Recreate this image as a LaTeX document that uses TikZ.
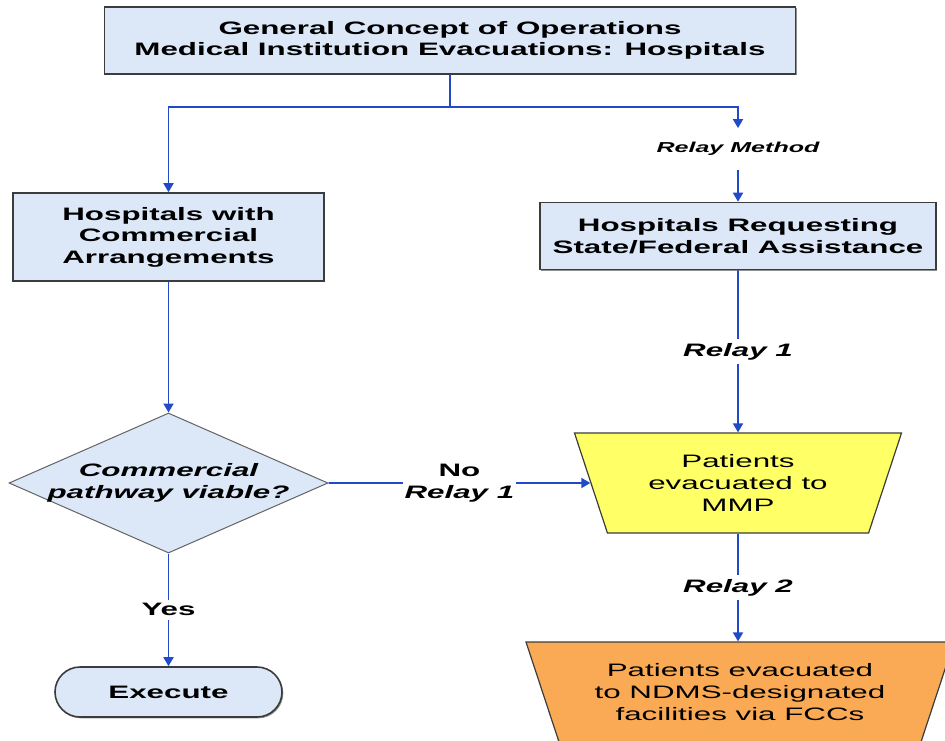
\documentclass[tikz,border=0pt]{standalone}
\usepackage{fontspec}
\setmainfont{Liberation Sans}[FakeStretch=1.74]
\usepackage{tikz}
\usepackage{xcolor}
\usetikzlibrary{shapes.geometric,arrows.meta,shadows,positioning}
\definecolor{boxblue}{RGB}{220,232,248}
\definecolor{edgegray}{RGB}{60,60,60}
\definecolor{flowblue}{RGB}{32,74,200}
\definecolor{mmpyellow}{RGB}{255,255,102}
\definecolor{fccorange}{RGB}{250,170,85}
\newcommand{\relaytag}[1]{\textbf{\textit{#1}}}

\begin{document}
\begin{tikzpicture}[x=1pt, y=-1pt,
    font=\bfseries\fontsize{18}{21.5}\selectfont,
    box/.style={draw=edgegray, line width=1.6pt, fill=boxblue, align=center,
        drop shadow={shadow xshift=1.3pt, shadow yshift=-1.3pt, fill=black!55, opacity=.8}},
    decision/.style={diamond, aspect=2.28, draw=edgegray!80, line width=1pt, fill=boxblue, align=center,
        font=\bfseries\itshape\fontsize{18}{21.5}\selectfont, inner sep=-6pt,
        minimum width=319pt, minimum height=140pt},
    terminal/.style={box, rounded corners=25pt, minimum width=227pt, minimum height=50pt},
    relaybox/.style={trapezium, shape border rotate=180, trapezium angle=60,
        trapezium stretches body, minimum height=100pt, draw=edgegray, line width=1.2pt,
        align=center, inner sep=0pt, font=\mdseries\fontsize{18}{22}\selectfont},
    flow/.style={draw=flowblue, line width=1.8pt},
    tip/.style={-{Triangle[length=9pt, width=10pt]}},
    tag/.style={fill=white, inner xsep=2pt, inner ysep=4pt, align=center}]

\useasboundingbox (0,0) rectangle (945,740);

% boxes
\node[box, minimum width=691pt, minimum height=67pt] (title) at (450,40.5)
    {General Concept of Operations\\Medical Institution Evacuations: Hospitals};
\node[box, minimum width=311pt, minimum height=88pt] (commercial) at (168.5,237)
    {Hospitals with\\Commercial\\Arrangements};
\node[box, minimum width=396pt, minimum height=67pt] (assist) at (738,236)
    {Hospitals Requesting\\State/Federal Assistance};
\node[font=\bfseries\itshape\fontsize{14.4}{17}\selectfont, inner xsep=0pt, inner ysep=14pt] (method) at (738,149)
    {Relay Method};
\node[decision] (viable) at (168.5,483) {Commercial\\pathway viable?};
\node[terminal] (execute) at (168.5,692) {Execute};
\node[relaybox, fill=mmpyellow, minimum width=327pt] (mmp) at (738,483)
    {Patients\\evacuated to\\MMP};
\node[relaybox, fill=fccorange, minimum width=428pt] (fcc) at (740,692)
    {Patients evacuated\\to NDMS-designated\\facilities via FCCs};

% connectors
\coordinate (split) at (title.south |- 0,107);
\draw[flow] (title.south) -- (split);
\draw[flow, tip] (split) -| (commercial.north);
\draw[flow, tip] (split) -| (method.north);
\draw[flow, tip] (method.south) -- (assist.north);
\draw[flow, tip] (assist.south) -- node[tag] {\relaytag{Relay 1}} (mmp.north);
\draw[flow, tip] (commercial.south) -- (viable.north);
\draw[flow, tip] (viable.east) -- node[tag] {No\\\relaytag{Relay 1}} (mmp.west);
\draw[flow, tip] (viable.south) -- node[tag] {Yes} (execute.north);
\draw[flow, tip] (mmp.south) -- node[tag] {\relaytag{Relay 2}} (fcc.north -| mmp.south);
\end{tikzpicture}
\end{document}
